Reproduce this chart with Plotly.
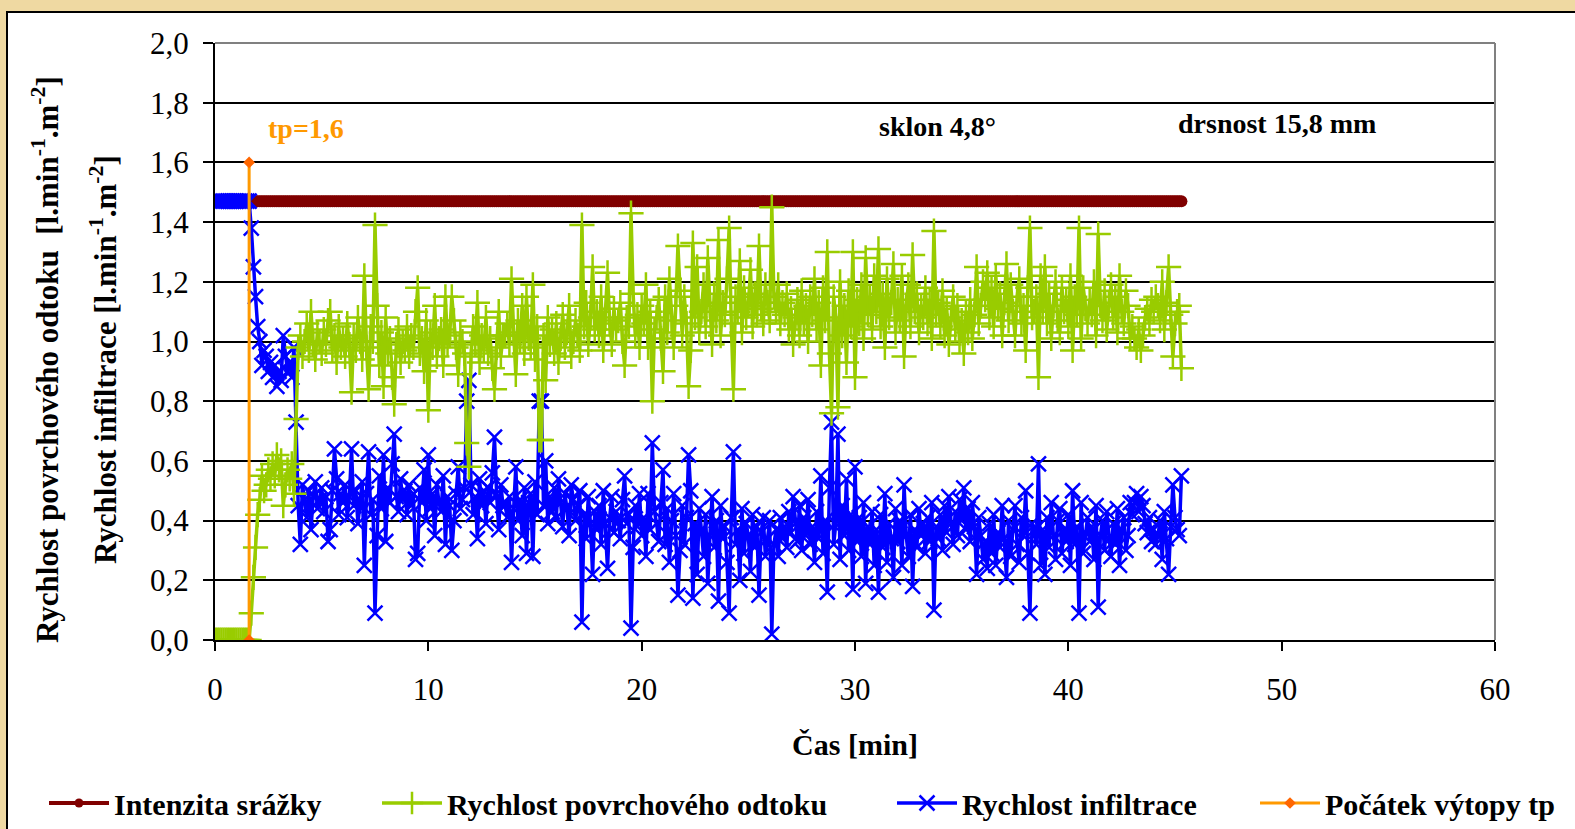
import plotly.graph_objects as go

# ---------------- data ----------------
time_step = 0.1
n_points = 454  # 0.0 .. 45.3 min
time_min = [round(i * time_step, 1) for i in range(n_points)]

intensity_value = 1.47
tp_value = 1.6

runoff = (
    [0.0] * 17 +
    [0.09, 0.21, 0.31] +
    [0.42, 0.47, 0.55, 0.50, 0.52, 0.57, 0.54, 0.59, 0.55, 0.62] +
    [0.57, 0.60, 0.45, 0.52, 0.57, 0.54, 0.59, 0.49, 0.74, 0.98] +
    [1.02, 0.95, 1.00, 1.06, 0.97, 1.10, 0.99, 0.94, 1.03, 1.00] +
    [0.96, 1.04, 0.99, 1.07, 1.10, 0.97, 1.02, 0.93, 1.05, 0.98] +
    [1.01, 0.95, 1.06, 0.99, 0.83, 1.02, 0.97, 1.08, 1.00, 0.94] +
    [1.22, 0.98, 0.84, 1.05, 1.00, 1.39, 1.12, 0.92, 1.03, 0.85] +
    [1.08, 0.96, 1.01, 0.88, 0.79, 0.99, 1.04, 0.93, 1.00, 0.97] +
    [1.05, 0.95, 1.02, 0.98, 1.10, 1.18, 0.96, 1.01, 0.90, 1.07] +
    [0.77, 1.03, 0.98, 1.12, 0.95, 1.01, 1.04, 0.92, 1.15, 0.99] +
    [1.02, 1.15, 1.07, 0.98, 0.89, 1.03, 1.00, 0.96, 0.66, 0.58] +
    [0.95, 1.05, 0.99, 1.13, 0.93, 1.02, 0.97, 1.08, 0.96, 1.01] +
    [0.91, 0.84, 0.98, 1.10, 0.95, 1.02, 1.02, 1.06, 0.99, 1.21] +
    [1.03, 0.89, 1.07, 1.00, 1.12, 0.96, 1.15, 1.01, 0.98, 1.19] +
    [0.94, 1.05, 0.67, 0.67, 1.02, 0.87, 1.08, 0.99, 1.04, 0.96] +
    [1.06, 0.93, 1.01, 1.09, 0.98, 1.03, 1.12, 0.95, 1.00, 1.07] +
    [1.02, 0.97, 1.39, 1.05, 1.13, 0.99, 1.08, 1.25, 1.04, 1.10] +
    [1.02, 1.15, 0.97, 1.08, 1.23, 1.06, 0.99, 1.11, 1.04, 1.07] +
    [1.13, 1.00, 0.92, 1.08, 1.05, 1.43, 1.16, 1.02, 1.09, 0.98] +
    [1.12, 1.06, 1.19, 0.98, 1.10, 0.80, 1.04, 1.08, 1.14, 1.01] +
    [0.90, 1.15, 1.03, 1.21, 1.07, 0.98, 1.12, 1.32, 1.17, 1.02] +
    [1.15, 1.06, 0.85, 0.97, 1.33, 1.08, 1.25, 1.03, 1.10, 1.19] +
    [1.05, 1.28, 1.12, 0.99, 1.16, 1.07, 1.34, 1.02, 1.13, 1.09] +
    [1.21, 1.38, 1.06, 0.84, 1.15, 1.10, 1.27, 1.03, 1.18, 1.08] +
    [1.12, 1.24, 1.05, 1.16, 1.09, 1.32, 1.11, 1.06, 1.19, 1.13] +
    [1.07, 1.45, 1.15, 1.10, 1.19, 1.06, 1.13, 1.09, 1.16, 1.04] +
    [1.11, 0.99, 1.08, 1.14, 1.02, 1.17, 1.06, 1.12, 1.00, 1.15] +
    [1.09, 1.21, 1.04, 1.13, 0.92, 1.18, 1.07, 1.30, 0.96, 0.76] +
    [1.15, 1.08, 0.78, 1.20, 1.02, 1.12, 0.93, 1.17, 1.05, 1.30] +
    [0.88, 1.14, 1.06, 1.19, 1.01, 1.28, 1.09, 1.15, 1.04, 1.22] +
    [1.10, 1.31, 1.05, 1.16, 0.98, 1.21, 1.08, 1.13, 1.26, 1.03] +
    [1.14, 1.07, 1.22, 0.95, 1.12, 1.19, 1.05, 1.29, 1.10, 1.16] +
    [1.03, 1.12, 1.08, 1.18, 1.06, 1.14, 1.01, 1.37, 1.09, 1.13] +
    [1.05, 1.17, 1.02, 1.11, 0.99, 1.08, 1.15, 1.04, 1.12, 1.00] +
    [1.07, 0.96, 1.10, 1.03, 1.14, 1.01, 1.09, 1.25, 1.06, 1.12] +
    [1.20, 1.14, 1.23, 1.08, 1.18, 1.05, 1.22, 1.11, 1.16, 1.02] +
    [1.13, 1.26, 1.07, 1.19, 1.10, 1.02, 1.15, 1.21, 1.06, 1.12] +
    [0.97, 1.18, 1.38, 1.08, 1.10, 1.15, 0.88, 1.22, 1.10, 1.25] +
    [1.06, 1.16, 1.01, 1.12, 1.20, 1.07, 1.03, 1.18, 1.10, 1.14] +
    [1.05, 1.22, 0.97, 1.15, 1.09, 1.38, 1.01, 1.18, 1.11, 1.06] +
    [1.14, 1.09, 1.20, 1.02, 1.36, 1.12, 1.07, 1.17, 1.04, 1.13] +
    [1.19, 1.08, 1.15, 1.03, 1.22, 1.10, 1.06, 1.17, 1.12, 1.01] +
    [1.05, 1.01, 0.98, 1.04, 0.97, 1.02, 1.08, 1.11, 1.06, 1.14] +
    [1.10, 1.15, 1.12, 1.07, 1.20, 1.04, 1.13, 1.25, 1.09, 0.95] +
    [1.06, 1.10, 1.12, 0.91]
)

infiltration = (
    [1.47] * 17 +
    [1.38, 1.25, 1.15] +
    [1.05, 1.00, 0.92, 0.97, 0.95, 0.90, 0.93, 0.88, 0.92, 0.85] +
    [0.90, 0.87, 1.02, 0.95, 0.90, 0.93, 0.88, 0.98, 0.73, 0.45] +
    [0.32, 0.52, 0.47, 0.41, 0.50, 0.37, 0.48, 0.53, 0.44, 0.47] +
    [0.51, 0.43, 0.48, 0.33, 0.37, 0.50, 0.64, 0.54, 0.42, 0.49] +
    [0.46, 0.52, 0.41, 0.48, 0.64, 0.45, 0.50, 0.39, 0.47, 0.53] +
    [0.25, 0.49, 0.63, 0.42, 0.47, 0.09, 0.35, 0.55, 0.44, 0.62] +
    [0.33, 0.51, 0.46, 0.59, 0.69, 0.48, 0.43, 0.54, 0.47, 0.50] +
    [0.42, 0.52, 0.45, 0.49, 0.27, 0.29, 0.51, 0.46, 0.57, 0.40] +
    [0.62, 0.44, 0.49, 0.35, 0.52, 0.46, 0.43, 0.55, 0.32, 0.48] +
    [0.45, 0.30, 0.40, 0.49, 0.58, 0.44, 0.47, 0.51, 0.80, 0.87] +
    [0.52, 0.42, 0.48, 0.34, 0.54, 0.45, 0.50, 0.39, 0.51, 0.46] +
    [0.56, 0.68, 0.49, 0.37, 0.52, 0.45, 0.45, 0.41, 0.48, 0.26] +
    [0.44, 0.58, 0.40, 0.47, 0.35, 0.51, 0.29, 0.46, 0.49, 0.28] +
    [0.53, 0.42, 0.80, 0.80, 0.45, 0.60, 0.39, 0.48, 0.43, 0.51] +
    [0.41, 0.54, 0.46, 0.38, 0.49, 0.44, 0.35, 0.52, 0.47, 0.40] +
    [0.45, 0.50, 0.06, 0.42, 0.34, 0.48, 0.39, 0.22, 0.43, 0.37] +
    [0.45, 0.32, 0.50, 0.39, 0.24, 0.41, 0.48, 0.36, 0.43, 0.40] +
    [0.34, 0.47, 0.55, 0.39, 0.42, 0.04, 0.31, 0.45, 0.38, 0.49] +
    [0.35, 0.41, 0.28, 0.49, 0.37, 0.66, 0.43, 0.39, 0.33, 0.46] +
    [0.57, 0.32, 0.44, 0.26, 0.40, 0.49, 0.35, 0.15, 0.30, 0.45] +
    [0.32, 0.41, 0.62, 0.50, 0.14, 0.39, 0.22, 0.44, 0.37, 0.28] +
    [0.42, 0.19, 0.35, 0.48, 0.31, 0.40, 0.13, 0.45, 0.34, 0.38] +
    [0.26, 0.09, 0.41, 0.63, 0.32, 0.37, 0.20, 0.44, 0.29, 0.39] +
    [0.35, 0.23, 0.42, 0.31, 0.38, 0.15, 0.36, 0.41, 0.28, 0.34] +
    [0.40, 0.02, 0.32, 0.37, 0.28, 0.41, 0.34, 0.38, 0.31, 0.43] +
    [0.36, 0.48, 0.39, 0.33, 0.45, 0.30, 0.41, 0.35, 0.47, 0.32] +
    [0.38, 0.26, 0.43, 0.34, 0.55, 0.29, 0.40, 0.16, 0.51, 0.73] +
    [0.32, 0.39, 0.69, 0.27, 0.45, 0.35, 0.54, 0.30, 0.42, 0.17] +
    [0.58, 0.33, 0.41, 0.28, 0.46, 0.19, 0.38, 0.32, 0.43, 0.25] +
    [0.37, 0.16, 0.42, 0.31, 0.49, 0.26, 0.39, 0.34, 0.21, 0.44] +
    [0.33, 0.40, 0.25, 0.52, 0.35, 0.28, 0.42, 0.18, 0.37, 0.31] +
    [0.44, 0.35, 0.39, 0.29, 0.41, 0.33, 0.46, 0.10, 0.38, 0.34] +
    [0.42, 0.30, 0.45, 0.36, 0.48, 0.39, 0.32, 0.43, 0.35, 0.47] +
    [0.40, 0.51, 0.37, 0.44, 0.33, 0.46, 0.38, 0.22, 0.41, 0.35] +
    [0.27, 0.33, 0.24, 0.39, 0.29, 0.42, 0.25, 0.36, 0.31, 0.45] +
    [0.34, 0.21, 0.40, 0.28, 0.37, 0.45, 0.32, 0.26, 0.41, 0.35] +
    [0.50, 0.29, 0.09, 0.39, 0.37, 0.32, 0.59, 0.25, 0.37, 0.22] +
    [0.41, 0.31, 0.46, 0.35, 0.27, 0.40, 0.44, 0.29, 0.37, 0.33] +
    [0.42, 0.25, 0.50, 0.32, 0.38, 0.09, 0.46, 0.29, 0.36, 0.41] +
    [0.33, 0.38, 0.27, 0.45, 0.11, 0.35, 0.40, 0.30, 0.43, 0.34] +
    [0.28, 0.39, 0.32, 0.44, 0.25, 0.37, 0.41, 0.30, 0.35, 0.46] +
    [0.42, 0.46, 0.49, 0.43, 0.48, 0.45, 0.39, 0.36, 0.41, 0.33] +
    [0.37, 0.32, 0.35, 0.40, 0.27, 0.43, 0.34, 0.22, 0.38, 0.52] +
    [0.41, 0.37, 0.35, 0.55]
)

intensity = [intensity_value] * n_points

y_ticks = [0.0, 0.2, 0.4, 0.6, 0.8, 1.0, 1.2, 1.4, 1.6, 1.8, 2.0]
x_ticks = [0, 10, 20, 30, 40, 50, 60]

names = ["Intenzita srážky", "Rychlost povrchového odtoku",
         "Rychlost infiltrace", "Počátek výtopy tp"]

# ---------------- style ----------------
FONT = "Liberation Serif, Times New Roman, serif"
C_RAIN = "#800000"
C_RUN = "#99CC00"
C_INF = "#0000FF"
C_TP = "#FF9900"
C_TPM = "#FF6600"

W, H = 1575, 829
ML, MR, MT, MB = 215, 80, 43, 189
PW, PH = W - ML - MR, H - MT - MB


def px_x(p):
    return (p - ML) / PW


def px_y(p):
    return (H - MB - p) / PH


fig = go.Figure()

# intensity (dense markers -> thick bar)
fig.add_trace(go.Scatter(
    x=time_min, y=intensity, mode="lines+markers",
    line=dict(color=C_RAIN, width=3),
    marker=dict(symbol="circle", size=12, color=C_RAIN),
    showlegend=False, hoverinfo="skip"))
fig.add_trace(go.Scatter(
    x=[None], y=[None], mode="lines+markers", name=names[0],
    line=dict(color=C_RAIN, width=4),
    marker=dict(symbol="circle", size=9, color=C_RAIN),
    legend="legend"))

# infiltration
fig.add_trace(go.Scatter(
    x=time_min, y=infiltration, mode="lines+markers", name=names[2],
    line=dict(color=C_INF, width=3.5),
    marker=dict(symbol="x-thin", size=15, line=dict(color=C_INF, width=2.5)),
    legend="legend3"))

# runoff
fig.add_trace(go.Scatter(
    x=time_min, y=runoff, mode="lines+markers", name=names[1],
    line=dict(color=C_RUN, width=3.5),
    marker=dict(symbol="cross-thin", size=18, line=dict(color=C_RUN, width=2.5)),
    legend="legend2"))

# tp marker line
fig.add_trace(go.Scatter(
    x=[tp_value, tp_value], y=[0, tp_value], mode="lines+markers", name=names[3],
    line=dict(color=C_TP, width=3),
    marker=dict(symbol="diamond", size=9, color=C_TPM),
    legend="legend4"))

# ---------------- layout ----------------
leg_common = dict(orientation="h", yanchor="middle", xanchor="left",
                  bgcolor="rgba(0,0,0,0)", borderwidth=0,
                  font=dict(family=FONT, size=30, color="black", weight="bold"),
                  itemwidth=60)
ly = px_y(803)
legends = {
    "legend": dict(leg_common, x=px_x(44), y=ly),
    "legend2": dict(leg_common, x=px_x(377), y=ly),
    "legend3": dict(leg_common, x=px_x(892), y=ly),
    "legend4": dict(leg_common, x=px_x(1255), y=ly),
}

shapes = [
    # white panel
    dict(type="rect", xref="paper", yref="paper", layer="below",
         x0=px_x(7), x1=px_x(1700), y0=px_y(12), y1=px_y(900),
         fillcolor="white", line=dict(color="black", width=2)),
    # plot border top & right in gray
    dict(type="line", xref="paper", yref="paper", layer="above",
         x0=0, x1=1, y0=1, y1=1, line=dict(color="#808080", width=2)),
    dict(type="line", xref="paper", yref="paper", layer="above",
         x0=1, x1=1, y0=0, y1=1, line=dict(color="#808080", width=2)),
]

ann_font = dict(family=FONT, size=28, color="black", weight="bold")
annotations = [
    dict(x=4.27, y=1.715, xref="x", yref="y", text="tp=1,6", showarrow=False,
         font=dict(family=FONT, size=28, color=C_TP, weight="bold")),
    dict(x=33.85, y=1.719, xref="x", yref="y", text="sklon 4,8°", showarrow=False,
         font=ann_font),
    dict(x=49.8, y=1.729, xref="x", yref="y", text="drsnost 15,8 mm", showarrow=False,
         font=ann_font),
    dict(x=px_x(45), y=px_y(360), xref="paper", yref="paper", textangle=-90,
         text="Rychlost povrchového odtoku  [l.min<sup>-1</sup>.m<sup>-2</sup>]",
         showarrow=False, xanchor="center", yanchor="middle",
         font=dict(family=FONT, size=31, color="black", weight="bold")),
    dict(x=px_x(103), y=px_y(360), xref="paper", yref="paper", textangle=-90,
         text="Rychlost infiltrace [l.min<sup>-1</sup>.m<sup>-2</sup>]",
         showarrow=False, xanchor="center", yanchor="middle",
         font=dict(family=FONT, size=31, color="black", weight="bold")),
]

fig.update_layout(
    width=W, height=H,
    margin=dict(l=ML, r=MR, t=MT, b=MB, pad=0, autoexpand=False),
    paper_bgcolor="#EFD9A2",
    plot_bgcolor="white",
    separators=", ",
    font=dict(family=FONT, color="black"),
    shapes=shapes,
    annotations=annotations,
    **legends,
)

fig.update_xaxes(
    range=[0, 60], tickvals=x_ticks, ticktext=[str(v) for v in x_ticks],
    showgrid=False, zeroline=False,
    showline=True, linecolor="black", linewidth=2,
    ticks="outside", ticklen=9, tickwidth=2, tickcolor="black",
    ticklabelstandoff=12,
    tickfont=dict(family=FONT, size=31, color="black"),
    title=dict(text="Čas [min]", standoff=28,
               font=dict(family=FONT, size=30, color="black", weight="bold")),
)
fig.update_yaxes(
    range=[0, 2], tickvals=y_ticks, tickformat=".1f",
    showgrid=True, gridcolor="black", gridwidth=2, zeroline=False,
    showline=True, linecolor="black", linewidth=2,
    ticks="outside", ticklen=10, tickwidth=2, tickcolor="black",
    ticklabelstandoff=8,
    tickfont=dict(family=FONT, size=31, color="black"),
)

fig.write_html("out.html")
